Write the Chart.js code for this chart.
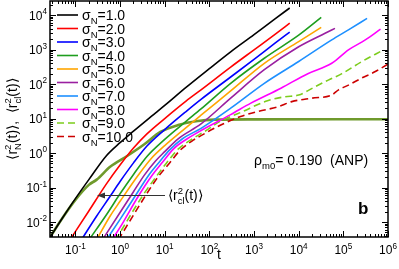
<!DOCTYPE html>
<html>
<head>
<meta charset="utf-8">
<script src="https://cdn.jsdelivr.net/npm/chart.js@4.4.0/dist/chart.umd.min.js"></script>
<style>
  html, body { margin: 0; padding: 0; background: #fff; }
  #wrap { width: 399px; height: 269px; }
</style>
</head>
<body>
<div id="wrap"><canvas id="msdChart" width="399" height="269"></canvas></div>
<script>
// values: t and <r_N^2(t)> for each sigma_N
const tS1 = [0.023, 0.05, 0.1, 0.2, 0.5, 1, 2, 5, 10, 30, 100, 300, 1000, 3000, 6300];
const rS1 = [0.0026, 0.0125, 0.048, 0.17, 0.85, 2.0, 4.3, 11.5, 24, 80, 280, 860, 2700, 7900, 16000];
const tS2 = [0.075, 0.2, 0.5, 1, 2, 4, 10, 30, 65, 300, 1000, 3000, 6300];
const rS2 = [0.003, 0.021, 0.13, 0.45, 1.4, 3.6, 10, 32, 68, 310, 980, 2800, 5800];
const tS3 = [0.135, 0.3, 0.6, 1, 2, 4, 10, 30, 65, 300, 1000, 3000, 6300];
const rS3 = [0.003, 0.015, 0.056, 0.15, 0.52, 1.6, 4.8, 16, 36, 160, 520, 1550, 3200];
const tS4 = [0.2, 0.5, 1, 2, 4, 10, 30, 65, 300, 1700, 10000, 32000];
const rS4 = [0.003, 0.0166, 0.066, 0.24, 0.8, 2.5, 8.3, 19, 105, 560, 2600, 8500];
const tS5 = [0.295, 0.6, 1, 2.5, 5, 10, 25, 65, 300, 1700, 10000, 32000];
const rS5 = [0.003, 0.015, 0.04, 0.22, 0.7, 1.65, 4.5, 12.5, 63, 400, 1700, 4400];
const tS6 = [0.4, 1, 2, 3.5, 6.3, 10, 20, 65, 300, 1700, 10000, 39000, 65000];
const rS6 = [0.003, 0.019, 0.076, 0.23, 0.6, 1.1, 2.6, 7, 39, 260, 1200, 2950, 4100];
const tS7 = [0.49, 1, 2.2, 4.5, 8, 12.6, 25, 65, 300, 1700, 10000, 55000, 130000, 340000];
const rS7 = [0.003, 0.012, 0.058, 0.24, 0.6, 1.2, 2.6, 5.2, 20, 105, 450, 1900, 3700, 8000];
const tS8 = [0.65, 1, 2.6, 5, 9, 16, 32, 65, 300, 850, 4000, 16000, 55000, 130000, 310000, 680000];
const rS8 = [0.003, 0.007, 0.058, 0.21, 0.55, 1.35, 2.6, 4.5, 13, 28, 76, 200, 400, 980, 1900, 3900];
const tS9 = [0.79, 3.2, 6.3, 11, 20, 40, 80, 180, 500, 2000, 5000, 10000, 23000, 46000, 93000, 260000, 740000];
const rS9 = [0.003, 0.058, 0.2, 0.52, 1.3, 2.5, 4.3, 8.5, 15, 33, 43, 48, 83, 130, 200, 450, 930];
const tS10 = [0.91, 3.7, 7, 12.6, 22, 40, 65, 180, 500, 1200, 3500, 7000, 20000, 55000, 78000, 130000, 260000, 520000, 1000000];
const rS10 = [0.003, 0.058, 0.2, 0.5, 1.2, 2.2, 3.2, 6.5, 11.5, 16, 22, 31, 39, 48, 68, 93, 150, 230, 380];
// <r_cl^2(t)>
const tCl = [0.023, 0.05, 0.1, 0.2, 0.3, 0.6, 1.5, 3.5, 8, 20, 55, 130, 1000, 1000000];
const rCl = [0.0026, 0.0125, 0.044, 0.12, 0.17, 0.4, 0.85, 1.8, 4.1, 6.5, 8.5, 9.3, 9.5, 9.6];

const sigmaLabels = ['1.0', '2.0', '3.0', '4.0', '5.0', '6.0', '7.0', '8.0', '9.0', '10.0'];
const seriesColors = ['#000000', '#ff0000', '#0000ff', '#1e9e1e', '#ffa500', '#9a1fa0', '#1e90ff', '#ff00ff', '#7ccd1c', '#cc0000'];
const seriesDashes = [[], [], [], [], [], [], [], [], [7, 4], [7, 4]];
const clColor = '#6f9a2c';

const xTickExps = [-1, 0, 1, 2, 3, 4, 5, 6];
const yTickExps = [-2, -1, 0, 1, 2, 3, 4];

const tLists = [tS1, tS2, tS3, tS4, tS5, tS6, tS7, tS8, tS9, tS10];
const rLists = [rS1, rS2, rS3, rS4, rS5, rS6, rS7, rS8, rS9, rS10];

const FONT = '"Liberation Sans", Arial, sans-serif';

function toPoints(ts, rs) {
    return ts.map((t, i) => ({ x: t, y: rs[i] }));
}

const datasets = tLists.map((ts, i) => ({
    label: 'σN=' + sigmaLabels[i],
    data: toPoints(ts, rLists[i]),
    borderColor: seriesColors[i],
    borderDash: seriesDashes[i],
    borderWidth: 1.6,
    pointRadius: 0,
    showLine: true,
    cubicInterpolationMode: 'monotone'
}));
datasets.push({
    label: 'rcl',
    data: toPoints(tCl, rCl),
    borderColor: clColor,
    borderWidth: 2.6,
    pointRadius: 0,
    showLine: true,
    cubicInterpolationMode: 'monotone'
});

// draws text with sub/superscripts, returns width
function richText(ctx, parts, x, y, size, draw) {
    let cx = x;
    const small = size * 0.68;
    parts.forEach(p => {
        if (typeof p === 'string') {
            ctx.font = `${size}px ${FONT}`;
            if (draw) ctx.fillText(p, cx, y);
            cx += ctx.measureText(p).width;
        } else {
            ctx.font = `${small}px ${FONT}`;
            let w = 0;
            if (p.sub) {
                if (draw) ctx.fillText(p.sub, cx, y + size * 0.3);
                w = Math.max(w, ctx.measureText(p.sub).width);
            }
            if (p.sup) {
                if (draw) ctx.fillText(p.sup, cx, y - size * 0.45);
                w = Math.max(w, ctx.measureText(p.sup).width);
            }
            cx += w;
        }
    });
    return cx - x;
}

const decorPlugin = {
    id: 'decor',
    afterDraw(chart) {
        const ctx = chart.ctx;
        const xs = chart.scales.x, ys = chart.scales.y;
        const { left, right, top, bottom } = chart.chartArea;
        ctx.save();
        ctx.fillStyle = '#000';
        ctx.strokeStyle = '#000';
        ctx.textBaseline = 'alphabetic';
        ctx.textAlign = 'left';

        // inward ticks on all four sides
        ctx.lineWidth = 1;
        ctx.beginPath();
        for (let e = -3; e <= 6; e++) {
            for (let m = 1; m <= 9; m++) {
                const v = m * Math.pow(10, e);
                const len = m === 1 ? 6 : 3;
                if (v >= xs.min && v <= xs.max) {
                    const px = Math.round(xs.getPixelForValue(v)) + 0.5;
                    ctx.moveTo(px, bottom); ctx.lineTo(px, bottom - len);
                    ctx.moveTo(px, top); ctx.lineTo(px, top + len);
                }
                if (v >= ys.min && v <= ys.max) {
                    const py = Math.round(ys.getPixelForValue(v)) + 0.5;
                    ctx.moveTo(left, py); ctx.lineTo(left + len, py);
                    ctx.moveTo(right, py); ctx.lineTo(right - len, py);
                }
            }
        }
        ctx.stroke();

        // frame
        ctx.lineWidth = 1.5;
        ctx.strokeRect(left, top, right - left, bottom - top);

        // tick labels
        xTickExps.forEach(e => {
            const px = xs.getPixelForValue(Math.pow(10, e));
            const parts = ['10', { sup: String(e) }];
            const w = richText(ctx, parts, 0, 0, 12, false);
            richText(ctx, parts, px - w / 2, 254, 12, true);
        });
        yTickExps.forEach(e => {
            const py = ys.getPixelForValue(Math.pow(10, e));
            const parts = ['10', { sup: String(e) }];
            const w = richText(ctx, parts, 0, 0, 12, false);
            richText(ctx, parts, 47 - w, py + 4.5, 12, true);
        });

        // axis titles
        ctx.font = `14px ${FONT}`;
        ctx.textAlign = 'center';
        ctx.fillText('t', (left + right) / 2, 259);
        ctx.textAlign = 'left';
        const yTitle = ['⟨r', { sub: 'N', sup: '2' }, '(t)⟩,  ⟨r', { sub: 'cl', sup: '2' }, '(t)⟩'];
        const yw = richText(ctx, yTitle, 0, 0, 14, false);
        ctx.save();
        ctx.translate(17, (top + bottom) / 2);
        ctx.rotate(-Math.PI / 2);
        richText(ctx, yTitle, -yw / 2, 0, 14, true);
        ctx.restore();

        // legend
        sigmaLabels.forEach((lab, i) => {
            const y = 15 + i * 13.5;
            ctx.save();
            ctx.strokeStyle = seriesColors[i];
            ctx.lineWidth = 1.6;
            ctx.setLineDash(seriesDashes[i]);
            ctx.beginPath();
            ctx.moveTo(57, y); ctx.lineTo(78, y);
            ctx.stroke();
            ctx.restore();
            richText(ctx, ['σ', { sub: 'N' }, '=' + lab], 82, y + 5, 14, true);
        });

        // annotations
        richText(ctx, ['ρ', { sub: 'm0' }, '= 0.190  (ANP)'], 254, 165, 14, true);
        ctx.font = `bold 17px ${FONT}`;
        ctx.fillText('b', 358, 214);

        // arrow to <r_cl^2(t)>
        ctx.strokeStyle = '#333';
        ctx.fillStyle = '#333';
        ctx.lineWidth = 1;
        ctx.beginPath();
        ctx.moveTo(165, 195.5); ctx.lineTo(103, 195.5);
        ctx.stroke();
        ctx.beginPath();
        ctx.moveTo(97, 195.5); ctx.lineTo(105, 192.5); ctx.lineTo(105, 198.5);
        ctx.closePath();
        ctx.fill();
        ctx.fillStyle = '#000';
        richText(ctx, ['⟨r', { sub: 'cl', sup: '2' }, '(t)⟩'], 168, 200, 14, true);

        ctx.restore();
    }
};

new Chart(document.getElementById('msdChart'), {
    type: 'scatter',
    data: { datasets: datasets },
    options: {
        responsive: false,
        animation: false,
        layout: { padding: { left: 50, right: 11, top: 1, bottom: 32 } },
        plugins: { legend: { display: false }, tooltip: { enabled: false } },
        scales: {
            x: { type: 'logarithmic', min: 0.027, max: 1000000, display: false },
            y: { type: 'logarithmic', min: 0.0037, max: 25500, display: false }
        }
    },
    plugins: [decorPlugin]
});
</script>
</body>
</html>
